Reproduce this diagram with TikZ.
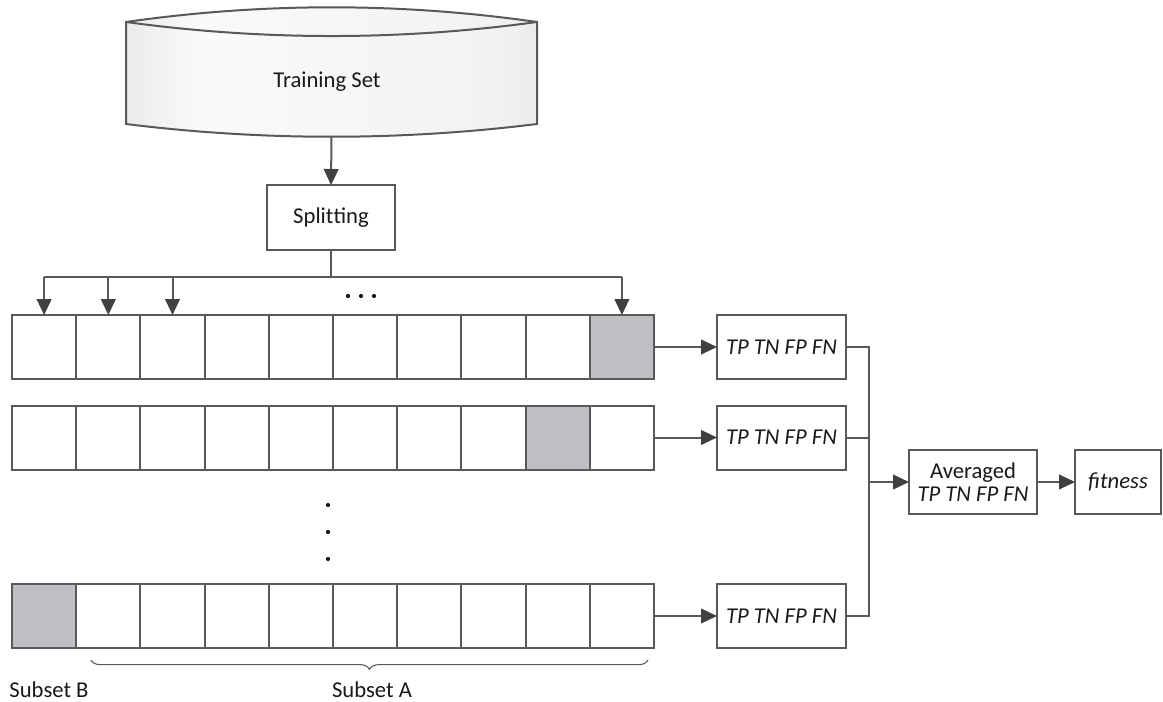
\documentclass[tikz,border=0pt]{standalone}
\usepackage{fontspec}
\setmainfont{Carlito}
\usetikzlibrary{arrows.meta,decorations.pathreplacing,calc}

\definecolor{linec}{RGB}{89,89,89}
\definecolor{tipc}{RGB}{64,64,64}
\definecolor{textc}{RGB}{25,25,25}
\definecolor{holdout}{RGB}{191,191,195}
\definecolor{drumA}{RGB}{234,235,237}
\definecolor{drumB}{RGB}{250,250,250}
\definecolor{drumC}{RGB}{241,242,244}

% the path's bounding box covers 25bp..75bp of the shading
\pgfdeclarehorizontalshading{drumshade}{100bp}{
  color(0bp)=(drumA); color(25bp)=(drumA); color(34bp)=(drumB);
  color(70bp)=(drumC); color(75bp)=(drumA); color(100bp)=(drumA)}

\tikzset{
  wire/.style={draw=linec, line width=1.5pt},
  flow/.style={wire, -{Triangle[length=12pt,width=11pt,fill=tipc,color=tipc]}},
  box/.style={draw=linec, line width=1.5pt, fill=white, inner sep=0pt, outer sep=0pt,
    text=textc, font=\fontsize{17}{19}\selectfont, align=center},
  cell/.style={box, minimum width=48.15pt, minimum height=48pt},
  tpbox/.style={box, minimum width=96.75pt, minimum height=48pt, font=\fontsize{17}{19}\selectfont\itshape},
  label/.style={text=textc, font=\fontsize{17}{19}\selectfont, inner sep=0pt},
  dotc/.style={fill=textc, draw=none},
}

\begin{document}
\begin{tikzpicture}[x=0.75pt, y=-0.75pt]
  \useasboundingbox (0,0) rectangle (1163,702);

  % training data store
  \path[shading=drumshade, draw=linec, line width=1.5pt]
    (126,22) .. controls (263,2.4) and (400,2.4) .. (537,22)
    -- (537,124) .. controls (400,141) and (263,141) .. (126,124) -- cycle;
  \draw[wire] (126,22) .. controls (263,40.7) and (400,40.7) .. (537,22);
  \node[label] (train) at (327,82) {Training Set};
  \coordinate (trainbot) at (331.5,136.5);

  % splitting step
  \node[box, minimum width=96.5pt, minimum height=48.75pt] (split) at (331,217.5) {Split\kern0pt ting};
  \draw[flow] (trainbot) -- (split.north);

  % folds: rows of ten cells, the shaded one is held out
  \foreach \r/\y/\g in {1/347/10, 2/437.5/9, 3/616/1} {
    \foreach \c in {1,...,10} {
      \pgfmathsetmacro{\cx}{12+64.2*(\c-0.5)}
      \ifnum\c=\g
        \node[cell, fill=holdout] (r\r c\c) at (\cx,\y) {};
      \else
        \node[cell] (r\r c\c) at (\cx,\y) {};
      \fi
    }
  }

  % distribution of the split into the cells
  \coordinate (bus) at (331,277);
  \draw[wire] (split.south) -- (bus);
  \draw[wire] (r1c1.north |- bus) -- (r1c10.north |- bus);
  \foreach \c in {1,2,3,10} {
    \draw[flow] (r1c\c.north |- bus) -- (r1c\c.north);
  }

  % ellipses
  \foreach \x in {348,361,374} \fill[dotc] (\x,296) circle (2.1);
  \foreach \y in {505,532,559} \fill[dotc] (328,\y) circle (2.1);

  % confusion counts per fold
  \node[tpbox] (tp1) at (781.5,347) {TP TN FP FN};
  \node[tpbox] (tp2) at (781.5,437.5) {TP TN FP FN};
  \node[tpbox] (tp3) at (781.5,616) {TP TN FP FN};
  \foreach \r in {1,2,3} \draw[flow] (r\r c10.east) -- (tp\r.west);

  % averaging and fitness
  \node[box, minimum width=96pt, minimum height=48pt] (avg) at (973,482) {Averaged\\[-2pt]\textit{TP TN FP FN}};
  \node[tpbox, minimum width=64.5pt] (fit) at (1118,482) {fitness};

  \coordinate (merge) at (869,482);
  \draw[wire] (tp1.east) -- (tp1.east -| merge) -- (tp3.east -| merge) -- (tp3.east);
  \draw[wire] (tp2.east) -- (tp2.east -| merge);
  \draw[flow] (merge) -- (avg.west);
  \draw[flow] (avg.east) -- (fit.west);

  % subset annotation
  \draw[draw=linec, line width=0.8pt, decorate, decoration={brace, mirror, amplitude=7pt}]
    (91,660) -- (648,660);
  \node[label] (subB) at (49,690) {Subset B};
  \node[label] (subA) at (372,690) {Subset A};
\end{tikzpicture}
\end{document}
